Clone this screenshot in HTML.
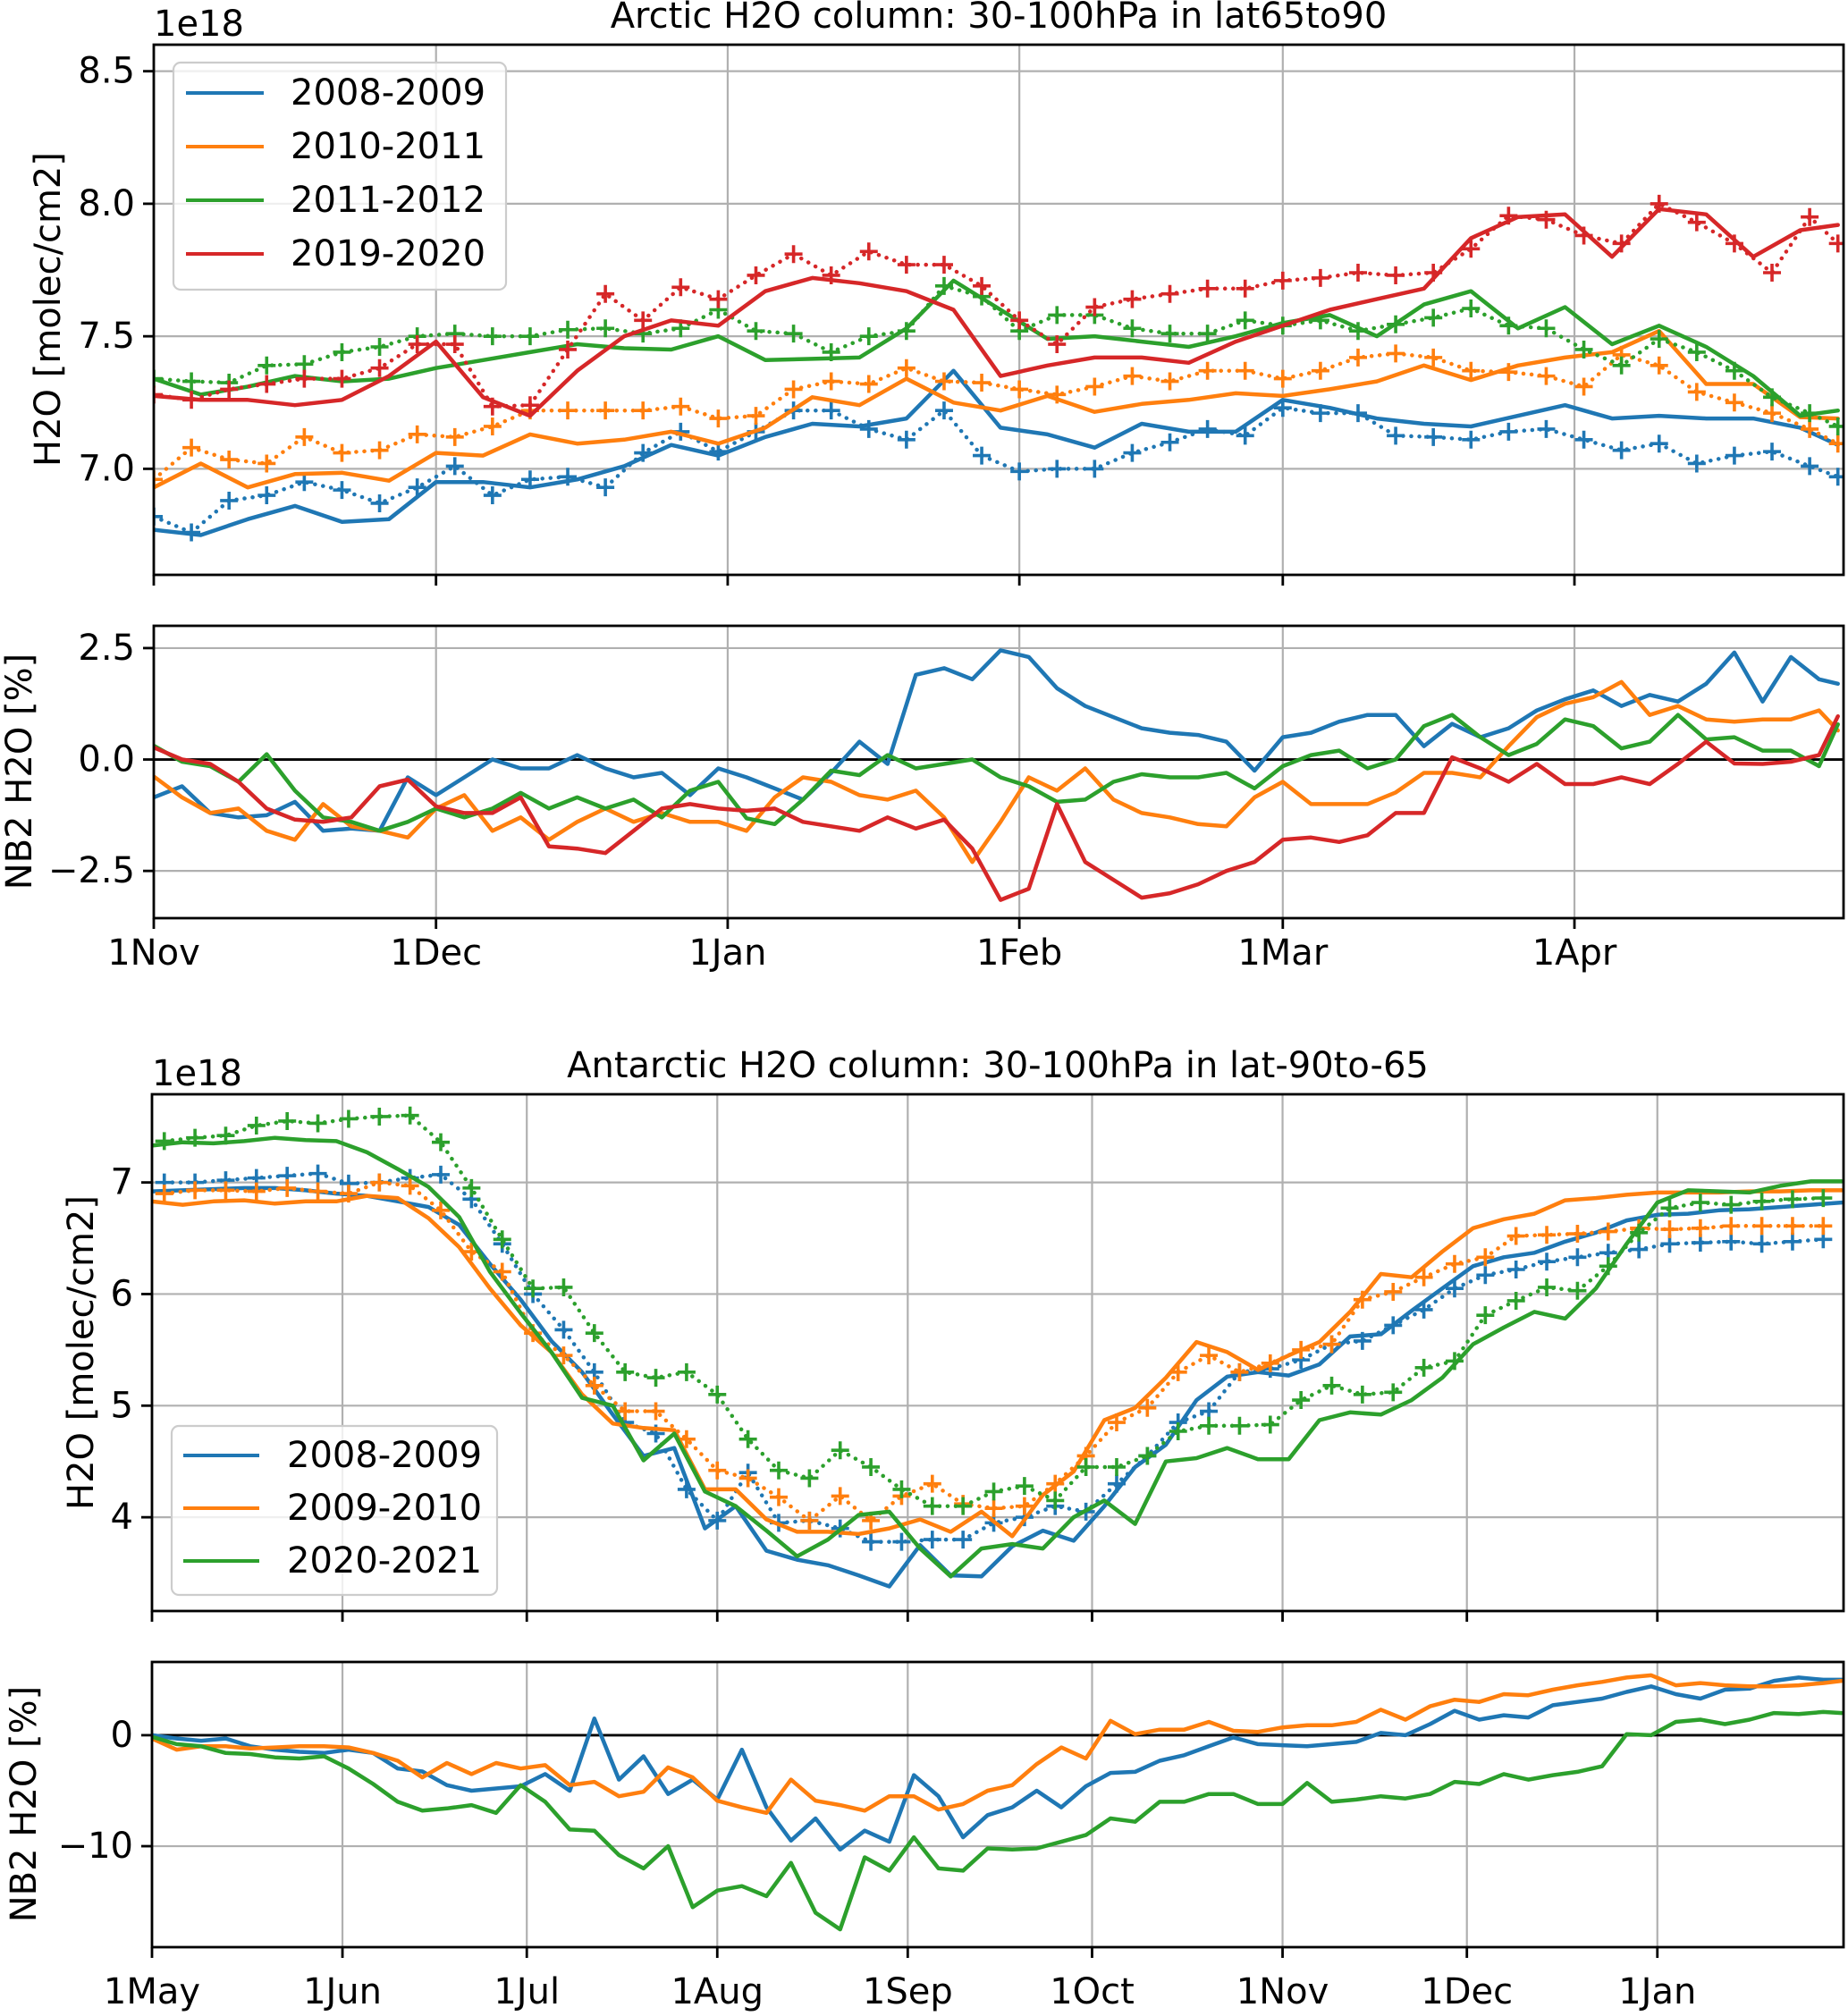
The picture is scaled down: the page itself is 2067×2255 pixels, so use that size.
<!DOCTYPE html>
<html><head><meta charset="utf-8">
<style>
html,body{margin:0;padding:0;background:#fff;}
svg{display:block;font-family:"DejaVu Sans","Liberation Sans",sans-serif;}
</style></head>
<body>
<svg id="fig" xmlns="http://www.w3.org/2000/svg" width="2067" height="2255" viewBox="0 0 2067 2255">
<rect width="2067" height="2255" fill="#fff"/>
</svg>
<script>
// ---------- Panel 1: Arctic H2O column ----------
const p1LineDays = [0,5,10,15,20,25,30,35,40,45,50,55,60,65,70,75,80,85,90,95,100,105,110,115,120,125,130,135,140,145,150,155,160,165,170,175,179];
const p1MarkDays = [0,4,8,12,16,20,24,28,32,36,40,44,48,52,56,60,64,68,72,76,80,84,88,92,96,100,104,108,112,116,120,124,128,132,136,140,144,148,152,156,160,164,168,172,176,179];
const p1BlueLine = [6.77,6.75,6.81,6.86,6.80,6.81,6.95,6.95,6.93,6.96,7.01,7.09,7.05,7.12,7.17,7.16,7.19,7.37,7.155,7.13,7.08,7.17,7.14,7.14,7.26,7.23,7.19,7.17,7.16,7.2,7.24,7.19,7.2,7.19,7.19,7.155,7.09];
const p1OrangeLine = [6.93,7.02,6.93,6.98,6.985,6.955,7.06,7.05,7.13,7.095,7.11,7.14,7.095,7.155,7.27,7.24,7.34,7.25,7.22,7.275,7.215,7.245,7.26,7.285,7.275,7.30,7.33,7.39,7.335,7.39,7.42,7.44,7.52,7.32,7.32,7.195,7.19];
const p1GreenLine = [7.34,7.28,7.31,7.35,7.33,7.34,7.38,7.41,7.44,7.47,7.455,7.45,7.50,7.41,7.415,7.42,7.53,7.71,7.60,7.49,7.50,7.48,7.46,7.50,7.55,7.58,7.50,7.62,7.67,7.53,7.61,7.47,7.54,7.46,7.35,7.20,7.22];
const p1RedLine = [7.275,7.26,7.26,7.24,7.26,7.35,7.48,7.27,7.20,7.37,7.50,7.56,7.54,7.67,7.72,7.70,7.67,7.60,7.35,7.39,7.42,7.42,7.40,7.48,7.54,7.60,7.64,7.68,7.87,7.95,7.96,7.80,7.98,7.96,7.80,7.90,7.92];
const p1BlueMark = [6.82,6.76,6.88,6.90,6.95,6.92,6.87,6.93,7.01,6.90,6.96,6.97,6.93,7.06,7.14,7.065,7.14,7.22,7.22,7.15,7.11,7.22,7.05,6.99,7.0,7.0,7.06,7.10,7.15,7.125,7.23,7.21,7.21,7.125,7.12,7.11,7.14,7.15,7.11,7.07,7.095,7.02,7.05,7.065,7.01,6.97];
const p1OrangeMark = [6.96,7.08,7.035,7.02,7.12,7.06,7.07,7.13,7.12,7.16,7.22,7.22,7.22,7.22,7.235,7.19,7.20,7.30,7.33,7.32,7.38,7.33,7.325,7.30,7.28,7.31,7.35,7.33,7.37,7.37,7.34,7.37,7.42,7.435,7.42,7.37,7.365,7.35,7.31,7.43,7.39,7.29,7.25,7.21,7.15,7.095];
const p1GreenMark = [7.34,7.33,7.325,7.39,7.395,7.44,7.46,7.50,7.51,7.50,7.50,7.525,7.53,7.51,7.53,7.60,7.52,7.51,7.44,7.50,7.52,7.69,7.65,7.52,7.58,7.58,7.53,7.51,7.51,7.56,7.54,7.56,7.52,7.545,7.57,7.605,7.54,7.53,7.45,7.39,7.49,7.44,7.37,7.27,7.21,7.16];
const p1RedMark = [7.28,7.26,7.30,7.32,7.34,7.34,7.38,7.47,7.47,7.235,7.24,7.45,7.66,7.56,7.685,7.64,7.73,7.81,7.73,7.82,7.77,7.77,7.69,7.56,7.47,7.61,7.64,7.66,7.68,7.68,7.71,7.72,7.74,7.73,7.74,7.83,7.955,7.94,7.88,7.85,8.0,7.93,7.85,7.74,7.95,7.85];
const p1YTicks = [7.0,7.5,8.0,8.5];
const p1YTickLabels = ["7.0","7.5","8.0","8.5"];
const arcticMonthDays = [0,30,61,92,120,151];
const arcticMonthLabels = ["1Nov","1Dec","1Jan","1Feb","1Mar","1Apr"];
const p1Legend = ["2008-2009","2010-2011","2011-2012","2019-2020"];

// ---------- Panel 2: Arctic NB2 ----------
const p2Days = [0,3,6,9,12,15,18,21,24,27,30,33,36,39,42,45,48,51,54,57,60,63,66,69,72,75,78,81,84,87,90,93,96,99,102,105,108,111,114,117,120,123,126,129,132,135,138,141,144,147,150,153,156,159,162,165,168,171,174,177,179];
const p2Blue = [-0.85,-0.6,-1.2,-1.3,-1.25,-0.95,-1.6,-1.55,-1.6,-0.4,-0.8,-0.4,0.0,-0.2,-0.2,0.1,-0.2,-0.4,-0.3,-0.8,-0.2,-0.4,-0.65,-0.9,-0.3,0.4,-0.1,1.9,2.05,1.8,2.45,2.3,1.6,1.2,0.95,0.7,0.6,0.55,0.4,-0.25,0.5,0.6,0.85,1.0,1.0,0.3,0.8,0.5,0.7,1.1,1.35,1.55,1.2,1.45,1.3,1.7,2.4,1.3,2.3,1.8,1.7];
const p2Orange = [-0.38,-0.85,-1.2,-1.1,-1.6,-1.8,-1.0,-1.5,-1.6,-1.75,-1.1,-0.8,-1.6,-1.3,-1.8,-1.4,-1.1,-1.4,-1.2,-1.4,-1.4,-1.6,-0.85,-0.4,-0.5,-0.8,-0.9,-0.7,-1.3,-2.3,-1.4,-0.4,-0.7,-0.2,-0.9,-1.2,-1.3,-1.45,-1.5,-0.85,-0.5,-1.0,-1.0,-1.0,-0.74,-0.3,-0.3,-0.4,0.3,0.95,1.25,1.4,1.74,1.0,1.2,0.9,0.85,0.9,0.9,1.1,0.65];
const p2Green = [0.31,-0.05,-0.15,-0.5,0.12,-0.7,-1.3,-1.4,-1.6,-1.4,-1.1,-1.3,-1.1,-0.75,-1.1,-0.85,-1.1,-0.9,-1.3,-0.7,-0.5,-1.32,-1.45,-0.9,-0.25,-0.35,0.1,-0.2,-0.1,0.0,-0.4,-0.6,-0.95,-0.9,-0.5,-0.33,-0.4,-0.4,-0.3,-0.65,-0.15,0.1,0.2,-0.2,0.0,0.75,1.0,0.5,0.1,0.35,0.9,0.75,0.25,0.4,1.0,0.45,0.5,0.2,0.2,-0.15,0.79];
const p2Red = [0.27,0.0,-0.1,-0.5,-1.1,-1.35,-1.4,-1.3,-0.6,-0.45,-1.05,-1.2,-1.2,-0.85,-1.95,-2.0,-2.1,-1.6,-1.1,-1.0,-1.1,-1.15,-1.1,-1.4,-1.5,-1.6,-1.3,-1.55,-1.35,-2.0,-3.15,-2.9,-1.0,-2.3,-2.7,-3.1,-3.0,-2.8,-2.5,-2.3,-1.8,-1.75,-1.85,-1.7,-1.2,-1.2,0.05,-0.2,-0.5,-0.1,-0.55,-0.55,-0.4,-0.55,-0.1,0.4,-0.09,-0.1,-0.05,0.1,0.97];
const p2YTicks = [-2.5,0,2.5];
const p2YTickLabels = ["\u22122.5","0.0","2.5"];

// ---------- Panel 3: Antarctic H2O column ----------
const p3LineDays = [0,5,10,15,20,25,30,35,40,45,50,55,60,65,70,75,80,85,90,95,100,105,110,115,120,125,130,135,140,145,150,155,160,165,170,175,180,185,190,195,200,205,210,215,220,225,230,235,240,245,250,255,260,265,270,275];
const p3MarkDays = [2,7,12,17,22,27,32,37,42,47,52,57,62,67,72,77,82,87,92,97,102,107,112,117,122,127,132,137,142,147,152,157,162,167,172,177,182,187,192,197,202,207,212,217,222,227,232,237,242,247,252,257,262,267,272];
const p3BlueLine = [6.92,6.93,6.94,6.95,6.95,6.93,6.90,6.88,6.83,6.78,6.62,6.27,5.95,5.58,5.30,4.92,4.55,4.62,3.9,4.1,3.7,3.62,3.57,3.48,3.38,3.75,3.48,3.47,3.74,3.88,3.79,4.1,4.45,4.65,5.05,5.26,5.30,5.27,5.37,5.62,5.64,5.85,6.05,6.25,6.33,6.37,6.47,6.55,6.66,6.71,6.72,6.75,6.76,6.78,6.80,6.82];
const p3OrangeLine = [6.83,6.80,6.83,6.84,6.81,6.83,6.83,6.88,6.86,6.68,6.42,6.05,5.72,5.48,5.10,4.84,4.80,4.78,4.25,4.25,3.98,3.87,3.87,3.85,3.90,3.98,3.87,4.05,3.83,4.20,4.41,4.87,4.98,5.25,5.57,5.48,5.32,5.45,5.57,5.84,6.18,6.15,6.38,6.59,6.67,6.72,6.84,6.86,6.89,6.91,6.91,6.91,6.92,6.92,6.93,6.93];
const p3GreenLine = [7.33,7.36,7.35,7.37,7.40,7.38,7.37,7.27,7.12,6.96,6.69,6.2,5.83,5.48,5.07,5.0,4.51,4.75,4.23,4.10,3.88,3.65,3.8,4.02,4.05,3.72,3.47,3.72,3.76,3.72,4.0,4.15,3.94,4.50,4.53,4.62,4.52,4.52,4.87,4.94,4.92,5.05,5.25,5.55,5.70,5.84,5.78,6.05,6.45,6.82,6.93,6.92,6.91,6.97,7.01,7.01];
const p3BlueMark = [7.0,7.0,7.02,7.04,7.06,7.08,6.99,7.0,7.04,7.07,6.85,6.45,6.0,5.68,5.3,4.85,4.75,4.25,3.97,4.4,3.95,3.97,3.9,3.78,3.78,3.8,3.8,3.95,4.0,4.1,4.05,4.3,4.55,4.85,4.95,5.30,5.33,5.41,5.55,5.58,5.72,5.86,6.05,6.17,6.22,6.29,6.33,6.37,6.40,6.45,6.46,6.47,6.45,6.47,6.49];
const p3OrangeMark = [6.90,6.93,6.93,6.92,6.95,6.92,6.90,7.0,6.97,6.75,6.38,6.2,5.65,5.45,5.18,4.95,4.95,4.7,4.42,4.35,4.18,3.97,4.19,3.97,4.19,4.30,4.12,4.08,4.10,4.30,4.55,4.85,4.98,5.3,5.45,5.30,5.38,5.50,5.55,5.95,6.02,6.15,6.27,6.33,6.52,6.53,6.54,6.56,6.59,6.58,6.59,6.61,6.61,6.61,6.61];
const p3GreenMark = [7.37,7.40,7.42,7.51,7.55,7.53,7.57,7.59,7.60,7.36,6.95,6.49,6.05,6.06,5.65,5.3,5.25,5.30,5.10,4.70,4.42,4.35,4.60,4.45,4.25,4.10,4.10,4.23,4.28,4.15,4.45,4.45,4.55,4.77,4.82,4.82,4.83,5.05,5.18,5.10,5.12,5.34,5.40,5.81,5.94,6.06,6.03,6.25,6.55,6.77,6.82,6.80,6.83,6.85,6.86];
const p3YTicks = [4,5,6,7];
const p3YTickLabels = ["4","5","6","7"];
const antMonthDays = [0,31,61,92,123,153,184,214,245];
const antMonthLabels = ["1May","1Jun","1Jul","1Aug","1Sep","1Oct","1Nov","1Dec","1Jan"];
const p3Legend = ["2008-2009","2009-2010","2020-2021"];

// ---------- Panel 4: Antarctic NB2 ----------
const p4Days = [0,4,8,12,16,20,24,28,32,36,40,44,48,52,56,60,64,68,72,76,80,84,88,92,96,100,104,108,112,116,120,124,128,132,136,140,144,148,152,156,160,164,168,172,176,180,184,188,192,196,200,204,208,212,216,220,224,228,232,236,240,244,248,252,256,260,264,268,272,275];
const p4Blue = [0.0,-0.3,-0.5,-0.3,-1.0,-1.3,-1.5,-1.6,-1.3,-1.6,-3.0,-3.27,-4.5,-5.0,-4.8,-4.6,-3.5,-5.0,1.5,-4.0,-1.9,-5.3,-4.0,-5.8,-1.3,-6.5,-9.5,-7.5,-10.3,-8.6,-9.6,-3.6,-5.5,-9.2,-7.2,-6.5,-5.0,-6.5,-4.6,-3.4,-3.3,-2.3,-1.8,-1.0,-0.2,-0.8,-0.9,-1.0,-0.8,-0.6,0.2,0.0,1.0,2.2,1.4,1.8,1.6,2.7,3.0,3.3,3.9,4.4,3.7,3.3,4.1,4.2,4.9,5.2,5.0,5.0];
const p4Orange = [-0.3,-1.3,-1.0,-1.0,-1.2,-1.1,-1.0,-1.0,-1.1,-1.6,-2.3,-3.8,-2.5,-3.5,-2.5,-3.0,-2.7,-4.5,-4.2,-5.5,-5.1,-2.9,-3.8,-5.9,-6.5,-7.0,-4.0,-5.9,-6.3,-6.8,-5.5,-5.5,-6.7,-6.2,-5.0,-4.5,-2.6,-1.1,-2.1,1.3,0.1,0.5,0.5,1.2,0.4,0.3,0.7,0.9,0.9,1.2,2.3,1.4,2.6,3.2,3.0,3.7,3.6,4.1,4.5,4.8,5.2,5.4,4.5,4.7,4.5,4.4,4.4,4.5,4.7,4.9];
const p4Green = [-0.15,-0.8,-1.0,-1.6,-1.7,-2.0,-2.1,-1.9,-3.0,-4.4,-6.0,-6.8,-6.6,-6.3,-7.0,-4.5,-6.0,-8.5,-8.6,-10.8,-12.0,-10.0,-15.5,-14.0,-13.6,-14.5,-11.5,-16.0,-17.5,-11.0,-12.2,-9.2,-12.0,-12.2,-10.2,-10.3,-10.2,-9.6,-9.0,-7.5,-7.8,-6.0,-6.0,-5.3,-5.3,-6.2,-6.2,-4.3,-6.0,-5.8,-5.5,-5.7,-5.3,-4.2,-4.4,-3.5,-4.0,-3.6,-3.3,-2.8,0.1,0.0,1.2,1.4,1.0,1.4,2.0,1.9,2.1,2.0];
const p4YTicks = [-10,0];
const p4YTickLabels = ["\u221210","0"];

// ---------- rendering ----------
const NS = "http://www.w3.org/2000/svg";
const svg = document.getElementById("fig");
const C = {blue:"#1f77b4", orange:"#ff7f0e", green:"#2ca02c", red:"#d62728"};
const FONT = 40;

function mk(tag, attrs, parent){
  const e = document.createElementNS(NS, tag);
  for (const k in attrs) e.setAttribute(k, attrs[k]);
  (parent || svg).appendChild(e);
  return e;
}
function scales(P){
  return {
    x: d => P.l + (d - P.x0) / (P.x1 - P.x0) * (P.r - P.l),
    y: v => P.b - (v - P.y0) / (P.y1 - P.y0) * (P.b - P.t)
  };
}
let clipN = 0;
function setupPanel(P, name){
  const g = mk("g", {});
  
  
  clipN++;
  const cp = mk("clipPath", {id:"clip"+clipN}, g);
  mk("rect", {x:P.l, y:P.t, width:P.r-P.l, height:P.b-P.t}, cp);
  const s = scales(P);
  const grid = mk("g", {stroke:"#b0b0b0", "stroke-width":2.2}, g);
  
  
  P.xt.forEach(d => mk("line", {x1:s.x(d), x2:s.x(d), y1:P.t, y2:P.b}, grid));
  P.yt.forEach(v => mk("line", {x1:P.l, x2:P.r, y1:s.y(v), y2:s.y(v)}, grid));
  const data = mk("g", {"clip-path":"url(#clip"+clipN+")"}, g);
  
  
  return {g, s, data};
}
function finishPanel(P, pan, name, xLabels, yLabels){
  const {g, s} = pan;
  const fr = mk("rect", {x:P.l, y:P.t, width:P.r-P.l, height:P.b-P.t, fill:"none", stroke:"#000", "stroke-width":2.8}, g);
  
  
  P.xt.forEach((d,i) => {
    const t = mk("line", {x1:s.x(d), x2:s.x(d), y1:P.b, y2:P.b+12, stroke:"#000", "stroke-width":2.8}, g);
    
    
    if (xLabels){
      const tx = mk("text", {x:s.x(d), y:P.b+P.lblOff, "font-size":FONT, "text-anchor":"middle", "dominant-baseline":"central", fill:"#000"}, g);
      
      
      tx.textContent = xLabels[i];
    }
  });
  P.yt.forEach((v,i) => {
    const t = mk("line", {x1:P.l-12, x2:P.l, y1:s.y(v), y2:s.y(v), stroke:"#000", "stroke-width":2.8}, g);
    
    
    const tx = mk("text", {x:P.l-21, y:s.y(v), "font-size":FONT, "text-anchor":"end", "dominant-baseline":"central", fill:"#000"}, g);
    
    
    tx.textContent = yLabels[i];
  });
}
function line(pan, days, vals, color, name, dash){
  const pts = days.map((d,i) => pan.s.x(d).toFixed(1) + "," + pan.s.y(vals[i]).toFixed(1)).join(" ");
  const attrs = {points:pts, fill:"none", stroke:color, "stroke-width":4.5, "stroke-linejoin":"round", "stroke-linecap":"round"};
  if (dash) attrs["stroke-dasharray"] = dash;
  const pl = mk("polyline", attrs, pan.data);
  
  
}
function marks(pan, days, vals, color, name){
  line(pan, days, vals, color, name + '-dotted', "0.1 9");
  const g = mk("g", {stroke:color, "stroke-width":3.6}, pan.data);
  
  
  days.forEach((d,i) => {
    const x = pan.s.x(d), y = pan.s.y(vals[i]);
    const p = mk("path", {d:`M${x-10},${y}H${x+10}M${x},${y-10}V${y+10}`}, g);
    
    
  });
}
function text(x, y, str, name, extra){
  const t = mk("text", Object.assign({x:x, y:y, "font-size":FONT, fill:"#000", "dominant-baseline":"central"}, extra||{}));
  
  
  t.textContent = str;
  return t;
}
function legend(box, entries, colors, rowY, name){
  const g = mk("g", {});
  
  
  mk("rect", {x:box.x, y:box.y, width:box.w, height:box.h, rx:8, fill:"#fff", "fill-opacity":0.8, stroke:"#cccccc", "stroke-width":2.2}, g);
  entries.forEach((lab,i) => {
    const eg = mk("g", {}, g);
    
    
    mk("line", {x1:box.lx1, x2:box.lx2, y1:rowY[i], y2:rowY[i], stroke:colors[i], "stroke-width":4}, eg);
    const t = mk("text", {x:box.tx, y:rowY[i], "font-size":FONT, "dominant-baseline":"central", fill:"#000"}, eg);
    t.textContent = lab;
  });
}

// Panel 1
const P1 = {l:172, t:50, r:2062, b:643, x0:0, x1:179.6, y0:6.6, y1:8.6, xt:arcticMonthDays, yt:p1YTicks, lblOff:40};
const pan1 = setupPanel(P1, "arctic-column-panel");
marks(pan1, p1MarkDays, p1BlueMark, C.blue, "arctic-2008-2009-markers");
line(pan1, p1LineDays, p1BlueLine, C.blue, "arctic-2008-2009-line");
marks(pan1, p1MarkDays, p1OrangeMark, C.orange, "arctic-2010-2011-markers");
line(pan1, p1LineDays, p1OrangeLine, C.orange, "arctic-2010-2011-line");
marks(pan1, p1MarkDays, p1GreenMark, C.green, "arctic-2011-2012-markers");
line(pan1, p1LineDays, p1GreenLine, C.green, "arctic-2011-2012-line");
marks(pan1, p1MarkDays, p1RedMark, C.red, "arctic-2019-2020-markers");
line(pan1, p1LineDays, p1RedLine, C.red, "arctic-2019-2020-line");
finishPanel(P1, pan1, "arctic-column", null, p1YTickLabels);
text(1117, 18, "Arctic H2O column: 30-100hPa in lat65to90", "arctic-title", {"text-anchor":"middle"});
text(172, 27, "1e18", "arctic-offset-label");
text(54, 346, "H2O [molec/cm2]", "arctic-y-axis-title", {"text-anchor":"middle", transform:"rotate(-90 54 346)"});
legend({x:194, y:70, w:372, h:254, lx1:208, lx2:295, tx:325}, p1Legend, [C.blue,C.orange,C.green,C.red], [104,164,224,284], "arctic-legend");

// Panel 2
const P2 = {l:172, t:700, r:2062, b:1027, x0:0, x1:179.6, y0:-3.56, y1:3.0, xt:arcticMonthDays, yt:p2YTicks, lblOff:39};
const pan2 = setupPanel(P2, "arctic-nb2-panel");
mk("line", {x1:P2.l, x2:P2.r, y1:pan2.s.y(0), y2:pan2.s.y(0), stroke:"#000", "stroke-width":2.8}, pan2.data);
line(pan2, p2Days, p2Blue, C.blue, "arctic-nb2-2008-2009");
line(pan2, p2Days, p2Orange, C.orange, "arctic-nb2-2010-2011");
line(pan2, p2Days, p2Green, C.green, "arctic-nb2-2011-2012");
line(pan2, p2Days, p2Red, C.red, "arctic-nb2-2019-2020");
finishPanel(P2, pan2, "arctic-nb2", arcticMonthLabels, p2YTickLabels);
text(22, 863, "NB2 H2O [%]", "arctic-nb2-y-axis-title", {"text-anchor":"middle", transform:"rotate(-90 22 863)"});

// Panel 3
const P3 = {l:170, t:1224, r:2062, b:1802, x0:0, x1:275.3, y0:3.16, y1:7.79, xt:antMonthDays, yt:p3YTicks, lblOff:40};
const pan3 = setupPanel(P3, "antarctic-column-panel");
marks(pan3, p3MarkDays, p3BlueMark, C.blue, "antarctic-2008-2009-markers");
line(pan3, p3LineDays, p3BlueLine, C.blue, "antarctic-2008-2009-line");
marks(pan3, p3MarkDays, p3OrangeMark, C.orange, "antarctic-2009-2010-markers");
line(pan3, p3LineDays, p3OrangeLine, C.orange, "antarctic-2009-2010-line");
marks(pan3, p3MarkDays, p3GreenMark, C.green, "antarctic-2020-2021-markers");
line(pan3, p3LineDays, p3GreenLine, C.green, "antarctic-2020-2021-line");
finishPanel(P3, pan3, "antarctic-column", null, p3YTickLabels);
text(1116, 1192, "Antarctic H2O column: 30-100hPa in lat-90to-65", "antarctic-title", {"text-anchor":"middle"});
text(170, 1201, "1e18", "antarctic-offset-label");
text(91, 1513, "H2O [molec/cm2]", "antarctic-y-axis-title", {"text-anchor":"middle", transform:"rotate(-90 91 1513)"});
legend({x:192, y:1595, w:364, h:189, lx1:205, lx2:290, tx:321}, p3Legend, [C.blue,C.orange,C.green], [1628,1687,1746], "antarctic-legend");

// Panel 4
const P4 = {l:170, t:1859, r:2062, b:2178, x0:0, x1:275.3, y0:-19.1, y1:6.6, xt:antMonthDays, yt:p4YTicks, lblOff:50};
const pan4 = setupPanel(P4, "antarctic-nb2-panel");
mk("line", {x1:P4.l, x2:P4.r, y1:pan4.s.y(0), y2:pan4.s.y(0), stroke:"#000", "stroke-width":2.8}, pan4.data);
line(pan4, p4Days, p4Blue, C.blue, "antarctic-nb2-2008-2009");
line(pan4, p4Days, p4Orange, C.orange, "antarctic-nb2-2009-2010");
line(pan4, p4Days, p4Green, C.green, "antarctic-nb2-2020-2021");
finishPanel(P4, pan4, "antarctic-nb2", antMonthLabels, p4YTickLabels);
text(27, 2018, "NB2 H2O [%]", "antarctic-nb2-y-axis-title", {"text-anchor":"middle", transform:"rotate(-90 27 2018)"});
</script>
</body></html>
